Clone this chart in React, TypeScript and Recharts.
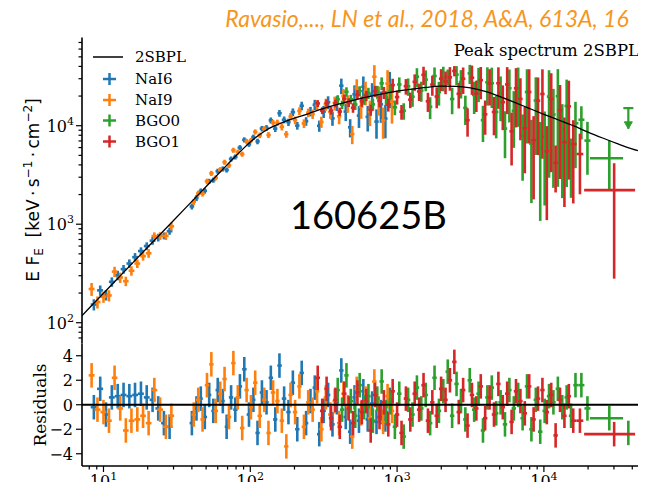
import React from 'react';
import { ComposedChart, Scatter, Line, XAxis, YAxis, ErrorBar, ReferenceLine } from 'recharts';

const BLUE = '#1f77b4';
const ORANGE = '#ff7f0e';
const GREEN = '#2ca02c';
const RED = '#d62728';

// ---------- model (2SBPL) ----------
const modelEnergy = [7.1, 10, 15, 20, 30, 45, 70, 80, 90, 100, 110, 120, 130, 140, 150, 170, 200, 250, 300, 398, 501, 631, 794, 1000, 1259, 1585, 1995, 2512, 3162, 3981, 5012, 6310, 7943, 10000, 12590, 15850, 19950, 25120, 31620, 39810, 56230];
const modelFlux = [117, 199, 373, 583, 1091, 2046, 4046, 4955, 5888, 6823, 7674, 8446, 9107, 9660, 10140, 10920, 11910, 13270, 14620, 16520, 18110, 19590, 21040, 22390, 23550, 24550, 25180, 25120, 24210, 22280, 19770, 17260, 15000, 13060, 11430, 10000, 8610, 7500, 6577, 5821, 5070];

// ---------- NaI6 ----------
const nai6Energy = [8.6, 9.5, 10.4, 11.4, 12.5, 13.7, 15.0, 16.4, 18.0, 19.7, 21.6, 23.6, 25.8, 28.2,
  40, 43, 46, 49, 52.5, 56, 60, 65, 69, 74, 79, 85, 91, 98, 105, 112, 120, 129, 138, 148,
  158, 170, 182, 195, 209, 224, 240, 257, 275, 295, 316, 339, 363, 389, 417, 447, 479, 513, 550, 589,
  631, 676, 724, 776, 832, 891];
const nai6Flux = [153, 213, 191, 260, 303, 350, 399, 463, 534, 600, 680, 734, 763, 849,
  1516, 1844, 2167, 2183, 2725, 2804, 3453, 3645, 3559, 4596, 4824, 5990, 7190, 6481, 7662, 6929, 9340, 9485, 11330, 9337,
  13390, 11480, 10850, 13750, 10020, 15930, 11100, 13970, 16350, 9970, 13920, 17300, 11870, 17010, 25490, 13920, 9630, 20880, 12660, 24880,
  12300, 20630, 11010, 16470, 11830, 25150];
const nai6RelErr = [0.13, 0.12, 0.12, 0.11, 0.11, 0.1, 0.1, 0.1, 0.09, 0.09, 0.09, 0.09, 0.08, 0.08,
  0.07, 0.07, 0.065, 0.065, 0.06, 0.06, 0.06, 0.06, 0.06, 0.06, 0.06, 0.06, 0.06, 0.06,
  0.06, 0.065, 0.065, 0.07, 0.07, 0.075, 0.08, 0.08, 0.085, 0.09,
  0.09, 0.1, 0.1, 0.11, 0.12, 0.13, 0.14, 0.15, 0.16, 0.17,
  0.18, 0.2, 0.21, 0.23, 0.25, 0.27, 0.29, 0.31, 0.33, 0.35, 0.37, 0.4];
const nai6Resid = [-0.2, 1.3, -0.8, 0.6, 0.7, 0.8, 0.7, 0.8, 0.9, 0.6, 0.4, -0.3, -1.5, -1.8,
  -1.5, -0.3, 0.5, -1.0, 0.8, -0.5, 1.2, 0.3, -1.8, 0.6, -0.4, 1.5, 2.9, -0.8, 0.4, -2.3, 1.0, 0.2, 2.2, -1.2,
  3.2, 0.5, -0.6, 1.8, -2.0, 2.6, -1.5, 0.3, 1.4, -2.4, -0.5, 0.8, -1.6, 0.2, 2.8, -1.0, -2.2, 0.6, -1.3, 1.1,
  -1.2, 0.1, -1.4, -0.6, -1.2, 0.4];

// ---------- NaI9 ----------
const nai9Energy = [8.3, 9.1, 10.0, 10.9, 11.9, 13.0, 14.2, 15.5, 17.0, 18.6, 20.3, 22.2, 24.3, 26.6, 29.0,
  41.2, 44.2, 47.3, 50.7, 54.3, 58.2, 62.4, 66.8, 71.6, 76.7, 82.2, 88.1, 94.4, 101, 108, 116, 124.5, 133, 143, 153,
  164, 176, 188, 202, 216, 232, 248, 266, 285, 305, 327, 351, 376, 403, 431, 462, 495, 531, 569, 610,
  653, 700, 750, 803, 861, 923];
const nai9Flux = [220, 162, 183, 189, 330, 288, 264, 337, 399, 474, 507, 758, 761, 760, 952,
  1686, 2047, 2040, 2722, 3285, 2963, 3579, 4261, 3955, 5644, 5400, 5146, 6922, 7075, 8660, 7995, 9292, 8049, 10720, 10710,
  9731, 8190, 12400, 11370, 14100, 10540, 13570, 13160, 16140, 10920, 16490, 13820, 17000, 12450, 19960, 16950, 8222, 24070, 15650, 22030,
  13930, 31450, 18850, 11320, 26740, 17500];
const nai9RelErr = [0.15, 0.14, 0.13, 0.13, 0.12, 0.12, 0.11, 0.11, 0.1, 0.1, 0.1, 0.09, 0.09, 0.09, 0.09,
  0.07, 0.07, 0.065, 0.065, 0.06, 0.06, 0.06, 0.06, 0.06, 0.06, 0.06, 0.06, 0.06, 0.06,
  0.06, 0.065, 0.065, 0.07, 0.07, 0.075, 0.08, 0.08, 0.085, 0.09,
  0.09, 0.1, 0.1, 0.11, 0.12, 0.13, 0.14, 0.15, 0.16, 0.17,
  0.18, 0.2, 0.21, 0.23, 0.25, 0.27, 0.29, 0.31, 0.33, 0.35, 0.37, 0.4];
const nai9Resid = [2.4, -0.4, -0.6, -1.3, 2.2, -0.3, -2.1, -1.3, -1.2, -0.9, -1.5, 1.2, -0.4, -1.8, -0.9,
  -0.8, 0.4, -1.2, 1.6, 3.3, -0.5, 0.9, 2.1, -1.0, 3.4, 0.6, -1.9, 1.2, -0.2, 1.8, -0.9, 0.4, -2.3, 1.0, 0.3,
  -1.3, -3.4, 0.8, -0.6, 1.5, -1.8, 0.2, -0.4, 1.1, -2.0, 0.6, -0.8, 0.3, -1.5, 0.9, -0.2, -2.6, 1.3, -0.7, 0.5,
  -1.1, 1.9, -0.3, -1.4, 0.7, -0.5];

// ---------- BGO0 ----------
const bgo0Energy = [394, 422, 452, 484, 519, 556, 596, 638, 684, 733, 785, 841, 902, 966, 1035, 1109, 1189, 1274, 1365, 1462,
  1567, 1679, 1799, 1928, 2065, 2213, 2371, 2541, 2723, 2917, 3126, 3350, 3589, 3846, 4121, 4416, 4732, 5070, 5433, 5821,
  6237, 6683, 7161, 7674, 8222, 8810, 9441, 10120, 10840, 11610, 12450, 13340, 14290, 15310, 16410, 18000, 19800];
const bgo0Flux = [18550, 16340, 22120, 18540, 16420, 22460, 18730, 21470, 16480, 22100,
  26910, 19280, 22520, 15390, 26200, 14200, 25140, 19690, 31440, 22740,
  29400, 15560, 32000, 21930, 31000, 31500, 18680, 33000, 27780, 15170,
  34000, 20540, 28000, 11380, 27580, 27000, 13780, 21370, 9355, 24000,
  14190, 24330, 7890, 22000, 6552, 18030, 6000, 7746, 19760, 13000,
  19950, 9190, 15880, 4632, 10590, 11500, 7060];
const bgo0RelErr = [0.1, 0.1, 0.11, 0.11, 0.12, 0.12, 0.13, 0.13, 0.14, 0.15,
  0.15, 0.16, 0.17, 0.17, 0.18, 0.19, 0.2, 0.21, 0.22, 0.23,
  0.24, 0.25, 0.22, 0.27, 0.28, 0.18, 0.3, 0.22, 0.32, 0.33,
  0.22, 0.36, 0.38, 0.4, 0.42, 0.44, 0.46, 0.48, 0.5, 0.55,
  0.58, 0.6, 0.65, 0.7, 0.75, 0.72, 0.82, 0.8, 0.85, 0.82,
  0.88, 0.8, 0.85, 0.6, 0.65, 0.37, 0.55];
const bgo0Resid = [1.2, -0.4, 2.4, 0.3, -0.9, 1.6, -0.2, 0.7, -1.3, 0.5, 1.9, -0.6, 0.2, -1.8, 0.9, -2.6, 0.4, -0.8, 1.4, -0.3,
  0.8, -1.5, 2.2, -0.5, 1.1, 2.7, -0.9, 1.7, 0.3, -1.2, 2.0, -0.4, 0.9, -2.1, 0.6, 1.4, -0.7, 0.2, -1.6, 1.2,
  -0.3, 0.8, -1.1, 1.5, -2.0, 0.4, -2.2, -0.5, 0.7, 0.2, 1.3, -0.2, 0.6, -0.9, 1.6, 1.6, -0.3];
const bgo0WideEnergy = [27900];
const bgo0WideLo = [20600];
const bgo0WideHi = [34600];
const bgo0WideFlux = [4670];
const bgo0WideErr = [2400];
const bgo0WideResid = [-1.1];
const bgo0LimitEnergy = [37600];
const bgo0LimitTop = [15100];
const bgo0LimitTip = [9300];
const bgo0LimitResid = [-2.3];

// ---------- BGO1 ----------
const bgo1Energy = [288, 309, 331, 355, 380, 407, 437, 468, 501, 537, 575, 617, 661, 708, 759, 813, 871, 933, 1000, 1072,
  1148, 1230, 1318, 1413, 1514, 1622, 1738, 1862, 1995, 2138, 2291, 2455, 2630, 2818, 3020, 3236, 3467, 3715, 3981, 4266,
  4571, 4898, 5248, 5623, 6026, 6457, 6918, 7413, 7943, 8511, 9120, 9772, 10470, 11220, 12020, 12880, 13800, 14790, 15850, 17600];
const bgo1Flux = [16840, 14240, 17000, 14220, 16880, 13920, 18810, 17210, 15200, 20670,
  17680, 20150, 14480, 22430, 17850, 21720, 16360, 25850, 19520, 13860,
  25200, 18380, 27890, 22270, 32800, 17690, 26150, 19780, 30000, 28190,
  31000, 36000, 21090, 30000, 11380, 30680, 21180, 29000, 13060, 26760,
  13780, 27000, 17340, 26230, 8770, 24000, 18720, 9394, 22000, 7145,
  17960, 21000, 5500, 18730, 4200, 14390, 6800, 15750, 6500, 5160];
const bgo1RelErr = [0.08, 0.08, 0.085, 0.09, 0.09, 0.095, 0.1, 0.1, 0.11, 0.11,
  0.12, 0.12, 0.13, 0.13, 0.14, 0.14, 0.15, 0.16, 0.16, 0.17,
  0.18, 0.18, 0.19, 0.2, 0.21, 0.22, 0.23, 0.24, 0.25, 0.26,
  0.27, 0.12, 0.29, 0.3, 0.32, 0.33, 0.35, 0.36, 0.38, 0.4,
  0.42, 0.45, 0.48, 0.5, 0.55, 0.6, 0.62, 0.65, 0.7, 0.75,
  0.72, 0.78, 0.8, 0.82, 0.5, 0.8, 0.78, 0.82, 0.75, 0.61];
const bgo1Resid = [2.2, -0.5, 1.3, -1.1, 0.4, -1.8, 0.9, -0.3, -1.5, 1.0, -0.6, 0.3, -2.1, 0.8, -1.0, 0.2, -1.6, 1.1, -0.8, -2.3,
  0.5, -1.2, 0.9, -0.4, 1.6, -1.3, 0.2, -0.9, 1.3, 0.4, 2.0, 3.5, -0.6, 1.2, -1.7, 0.8, -0.3, 1.5, -1.1, 0.6,
  -0.8, 1.7, -0.2, 0.9, -1.4, 1.1, 0.3, -0.7, 1.5, -1.2, 0.5, 1.2, -0.6, 0.8, -2.5, 0.4, -0.9, 0.7, -1.3, -1.3];
const bgo1WideEnergy = [30100];
const bgo1WideLo = [18800];
const bgo1WideHi = [41800];
const bgo1WideFlux = [2220];
const bgo1WideErr = [1940];
const bgo1WideResid = [-2.4];

// ---------- ticks ----------
const mainYTicks = [70, 80, 90, 100, 200, 300, 400, 500, 600, 700, 800, 900, 1000, 2000, 3000, 4000, 5000, 6000, 7000, 8000, 9000, 10000, 20000, 30000, 40000, 50000, 60000, 70000];
const mainYMajor = [100, 1000, 10000];
const xTicks = [8, 9, 10, 20, 30, 40, 50, 60, 70, 80, 90, 100, 200, 300, 400, 500, 600, 700, 800, 900, 1000, 2000, 3000, 4000, 5000, 6000, 7000, 8000, 9000, 10000, 20000, 30000, 40000, 50000, 60000, 70000, 80000];
const xMajor = [10, 100, 1000, 10000];
const resTicks = [-4, -2, 0, 2, 4];

const X_DOMAIN: [number, number] = [7.139, 84550];
const Y_DOMAIN: [number, number] = [61.5, 78620];
const R_DOMAIN: [number, number] = [-5, 5];

type Pt = { x: number; y: number; r: number; xe: [number, number]; ye: number; re: number };

function buildSeries(energy: number[], flux: number[], relErr: number[], resid: number[]): Pt[] {
  return energy.map((e, i) => {
    const prev = energy[i - 1];
    const next = energy[i + 1];
    const hasPrev = prev !== undefined && e / prev < 1.2;
    const hasNext = next !== undefined && next / e < 1.2;
    let lo = hasPrev ? Math.sqrt(prev * e) : NaN;
    let hi = hasNext ? Math.sqrt(next * e) : NaN;
    if (!hasPrev) lo = hasNext ? (e * e) / hi : e;
    if (!hasNext) hi = hasPrev ? (e * e) / lo : e;
    return { x: e, y: flux[i], r: resid[i], xe: [e - lo, hi - e], ye: relErr[i] * flux[i], re: 1 };
  });
}

function buildWide(energy: number[], lo: number[], hi: number[], flux: number[], err: number[], resid: number[]): Pt[] {
  return energy.map((e, i) => ({ x: e, y: flux[i], r: resid[i], xe: [e - lo[i], hi[i] - e], ye: err[i], re: 1 }));
}

const bluePts = buildSeries(nai6Energy, nai6Flux, nai6RelErr, nai6Resid);
const orangePts = buildSeries(nai9Energy, nai9Flux, nai9RelErr, nai9Resid);
const greenPts = [
  ...buildSeries(bgo0Energy, bgo0Flux, bgo0RelErr, bgo0Resid),
  ...buildWide(bgo0WideEnergy, bgo0WideLo, bgo0WideHi, bgo0WideFlux, bgo0WideErr, bgo0WideResid),
];
const redPts = [
  ...buildSeries(bgo1Energy, bgo1Flux, bgo1RelErr, bgo1Resid),
  ...buildWide(bgo1WideEnergy, bgo1WideLo, bgo1WideHi, bgo1WideFlux, bgo1WideErr, bgo1WideResid),
];
const greenResidPts = [
  ...greenPts,
  ...bgo0LimitEnergy.map((e, i) => ({ x: e, y: bgo0LimitTip[i], r: bgo0LimitResid[i], xe: [0, 0] as [number, number], ye: 0, re: 1 })),
];
const limitTopPts = bgo0LimitEnergy.map((e, i) => ({ x: e, y: bgo0LimitTop[i], ul: [bgo0LimitTop[i] - bgo0LimitTip[i], 0] }));
const limitTipPts = bgo0LimitEnergy.map((e, i) => ({ x: e, y: bgo0LimitTip[i] }));
const modelPts = modelEnergy.map((e, i) => ({ x: e, y: modelFlux[i] }));

const SERIF = 'DejaVu Serif, serif';
const SANS = 'DejaVu Sans, sans-serif';
const BAR_W = 2.6;

const NoDot = () => <g />;
const CapShape = (p: any) => <line x1={p.cx - 5} x2={p.cx + 5} y1={p.cy} y2={p.cy} stroke={GREEN} strokeWidth={2.2} />;
const ArrowShape = (p: any) => (
  <path d={`M${p.cx - 4},${p.cy - 7} L${p.cx + 4},${p.cy - 7} L${p.cx},${p.cy} Z`} fill={GREEN} stroke={GREEN} strokeWidth={1} />
);

function MainYTick(props: any) {
  const { x, y, payload } = props;
  const v = payload.value;
  const major = mainYMajor.includes(v);
  return (
    <g>
      <line x1={x} x2={x - (major ? 6 : 3.5)} y1={y} y2={y} stroke="#000" strokeWidth={1.2} />
      {major && (
        <text x={x - 8} y={y + 6} textAnchor="end" fontFamily={SERIF} fontSize={16} fill="#000">
          10<tspan dy={-7} fontSize={11}>{String(Math.round(Math.log10(v)))}</tspan>
        </text>
      )}
    </g>
  );
}

function ResYTick(props: any) {
  const { x, y, payload } = props;
  const v = payload.value;
  return (
    <g>
      <line x1={x} x2={x - 6} y1={y} y2={y} stroke="#000" strokeWidth={1.2} />
      <text x={x - 9} y={y + 6} textAnchor="end" fontFamily={SERIF} fontSize={16} fill="#000">
        {v < 0 ? `\u2212${Math.abs(v)}` : String(v)}
      </text>
    </g>
  );
}

function XTick(props: any) {
  const { x, y, payload } = props;
  const v = payload.value;
  const major = xMajor.includes(v);
  return (
    <g>
      <line x1={x} x2={x} y1={y} y2={y + (major ? 6 : 3.5)} stroke="#000" strokeWidth={1.2} />
      {major && (
        <text x={x} y={y + 21} textAnchor="middle" fontFamily={SERIF} fontSize={16} fill="#000">
          10<tspan dy={-7} fontSize={11}>{String(Math.round(Math.log10(v)))}</tspan>
        </text>
      )}
    </g>
  );
}

function errorScatter(key: string, data: any[], color: string, yErrKey: string) {
  return (
    <Scatter key={key} data={data} fill={color} shape={NoDot} isAnimationActive={false}>
      <ErrorBar dataKey="xe" direction="x" width={0} stroke={color} strokeWidth={BAR_W} isAnimationActive={false} />
      <ErrorBar dataKey={yErrKey} direction="y" width={0} stroke={color} strokeWidth={BAR_W} isAnimationActive={false} />
    </Scatter>
  );
}

const axisLine = { stroke: '#000', strokeWidth: 1.6 };

const legendItems = [
  { label: 'NaI6', color: BLUE, y: 79 },
  { label: 'NaI9', color: ORANGE, y: 100 },
  { label: 'BGO0', color: GREEN, y: 120.5 },
  { label: 'BGO1', color: RED, y: 141.5 },
];

export default function App() {
  return (
    <div style={{ position: 'relative', width: 646, height: 490, margin: '-8px 0 -8px -8px', overflow: 'hidden', background: '#fff' }}>
      <div style={{ position: 'absolute', left: 0, top: 0 }}>
        <ComposedChart width={680} height={344} margin={{ top: 37.5, right: 0, bottom: 0.5, left: 0 }}>
          <XAxis dataKey="x" type="number" scale="log" domain={X_DOMAIN} allowDataOverflow tick={false} tickLine={false} height={0} axisLine={axisLine} />
          <XAxis xAxisId="top" orientation="top" dataKey="x" type="number" scale="log" domain={X_DOMAIN} allowDataOverflow tick={false} tickLine={false} height={0} axisLine={axisLine} />
          <YAxis dataKey="y" type="number" scale="log" domain={Y_DOMAIN} allowDataOverflow width={82} ticks={mainYTicks} interval={0} tick={<MainYTick />} tickLine={false} tickSize={0} tickMargin={0} axisLine={axisLine} />
          {errorScatter('blue', bluePts, BLUE, 'ye')}
          {errorScatter('orange', orangePts, ORANGE, 'ye')}
          {errorScatter('green', greenPts, GREEN, 'ye')}
          {errorScatter('red', redPts, RED, 'ye')}
          <Scatter data={limitTopPts} fill={GREEN} shape={CapShape} isAnimationActive={false}>
            <ErrorBar dataKey="ul" direction="y" width={0} stroke={GREEN} strokeWidth={2.2} isAnimationActive={false} />
          </Scatter>
          <Scatter data={limitTipPts} fill={GREEN} shape={ArrowShape} isAnimationActive={false} />
          <Line data={modelPts} dataKey="y" type="monotone" stroke="#000" strokeWidth={1.3} dot={false} activeDot={false} isAnimationActive={false} />
        </ComposedChart>
      </div>
      <div style={{ position: 'absolute', left: 0, top: 0 }}>
        <ComposedChart width={680} height={490} margin={{ top: 343.5, right: 0, bottom: 0, left: 0 }}>
          <XAxis dataKey="x" type="number" scale="log" domain={X_DOMAIN} allowDataOverflow height={24} ticks={xTicks} interval={0} tick={<XTick />} tickLine={false} tickSize={0} tickMargin={0} axisLine={axisLine} />
          <YAxis dataKey="r" type="number" domain={R_DOMAIN} allowDataOverflow width={82} ticks={resTicks} interval={0} tick={<ResYTick />} tickLine={false} tickSize={0} tickMargin={0} axisLine={axisLine} />
          {errorScatter('rblue', bluePts, BLUE, 're')}
          {errorScatter('rorange', orangePts, ORANGE, 're')}
          {errorScatter('rgreen', greenResidPts, GREEN, 're')}
          {errorScatter('rred', redPts, RED, 're')}
          <ReferenceLine y={0} stroke="#000" strokeWidth={1.8} />
        </ComposedChart>
      </div>
      <svg width={646} height={490} style={{ position: 'absolute', left: 0, top: 0, pointerEvents: 'none' }}>
        <text x={427} y={27} textAnchor="middle" fontFamily="Lato, sans-serif" fontStyle="italic" fontSize={23} fill="#f6961e">
          Ravasio,..., LN et al., 2018, A&amp;A, 613A, 16
        </text>
        <text x={639} y={56} textAnchor="end" fontFamily={SERIF} fontSize={16.5} fill="#000">Peak spectrum 2SBPL</text>
        <text x={290} y={229} fontFamily="Lato, sans-serif" fontSize={38} fill="#000">160625B</text>
        <line x1={93} x2={123} y1={57} y2={57} stroke="#000" strokeWidth={1.5} />
        <text x={135} y={62} fontFamily={SERIF} fontSize={15} fill="#000">2SBPL</text>
        {legendItems.map((it) => (
          <g key={it.label}>
            <line x1={103} x2={116} y1={it.y} y2={it.y} stroke={it.color} strokeWidth={2.5} />
            <line x1={109.5} x2={109.5} y1={it.y - 6} y2={it.y + 6} stroke={it.color} strokeWidth={2.5} />
            <text x={135} y={it.y + 5} fontFamily={SERIF} fontSize={15} fill="#000">{it.label}</text>
          </g>
        ))}
        <text transform="rotate(-90 33 190)" x={33} y={190} dy="0.35em" textAnchor="middle" fontFamily={SANS} fontSize={17} fill="#000">
          E F<tspan fontSize={12} dy={4}>E</tspan><tspan dy={-4}>{'\u00a0\u00a0[keV\u2009\u00b7\u2009s'}</tspan><tspan fontSize={12} dy={-7}>{'\u22121'}</tspan><tspan dy={7}>{'\u2009\u00b7\u2009cm'}</tspan><tspan fontSize={12} dy={-7}>{'\u22122'}</tspan><tspan dy={7}>]</tspan>
        </text>
        <text transform="rotate(-90 40 405)" x={40} y={405} dy="0.35em" textAnchor="middle" fontFamily={SERIF} fontSize={17} fill="#000">Residuals</text>
      </svg>
    </div>
  );
}
